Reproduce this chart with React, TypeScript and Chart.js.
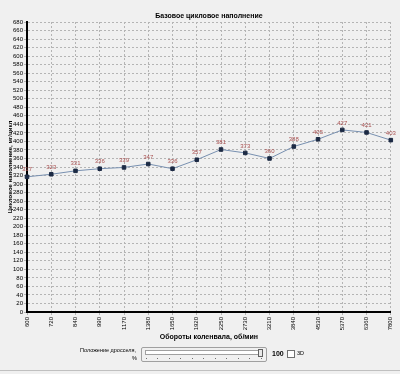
import React, { useEffect, useRef } from "react";
import { Chart, registerables } from "chart.js";

Chart.register(...registerables);

const rpmLabels = ["600", "720", "840", "990", "1170", "1380", "1650", "1920", "2250", "2730", "3210", "3840", "4530", "5370", "6360", "7800"];
const fillValues = [317, 323, 331, 336, 339, 347, 336, 357, 381, 373, 360, 388, 405, 427, 421, 403];
const yMin = 0;
const yMax = 680;
const yStep = 20;
const chartTitle = "Базовое цикловое наполнение";
const yTitle = "Цикловое наполнение, мг/цикл";
const xTitle = "Обороты коленвала, об/мин";

const FONT = "'Liberation Sans', Arial, sans-serif";

const textPlugin = {
  id: "textPlugin",
  beforeDraw(chart: any) {
    const ctx = chart.ctx;
    ctx.save();
    ctx.fillStyle = "#f0f0f0";
    ctx.fillRect(0, 0, chart.width, chart.height);
    ctx.restore();
  },
  afterDatasetsDraw(chart: any) {
    const ctx = chart.ctx;
    const meta = chart.getDatasetMeta(0);
    ctx.save();
    ctx.font = `6px ${FONT}`;
    ctx.fillStyle = "#a85050";
    ctx.textAlign = "center";
    ctx.textBaseline = "bottom";
    meta.data.forEach((pt: any, i: number) => {
      ctx.fillText(String(fillValues[i]), pt.x, pt.y - 4);
    });
    ctx.restore();
  },
  afterDraw(chart: any) {
    const ctx = chart.ctx;
    const a = chart.chartArea;
    ctx.save();
    ctx.fillStyle = "#000";
    ctx.font = `bold 7px ${FONT}`;
    ctx.textAlign = "center";
    ctx.textBaseline = "middle";
    ctx.fillText(chartTitle, (a.left + a.right) / 2, 16);
    ctx.fillText(xTitle, (a.left + a.right) / 2, 337);
    ctx.translate(10, (a.top + a.bottom) / 2);
    ctx.rotate(-Math.PI / 2);
    ctx.font = `bold 6px ${FONT}`;
    ctx.fillText(yTitle, 0, 0);
    ctx.restore();
  },
};

export default function App() {
  const ref = useRef<HTMLCanvasElement | null>(null);
  useEffect(() => {
    if (!ref.current) return;
    const chart = new Chart(ref.current, {
      type: "line",
      data: {
        labels: rpmLabels,
        datasets: [
          {
            data: fillValues,
            borderColor: "#7890b0",
            borderWidth: 1,
            pointStyle: "rect",
            pointRadius: 2.5,
            pointBackgroundColor: "#1c2a44",
            pointBorderColor: "#1c2a44",
            tension: 0,
          },
        ],
      },
      plugins: [textPlugin],
      options: {
        animation: false,
        responsive: false,
        layout: { padding: { left: 0, top: 22, right: 8, bottom: 32 } },
        plugins: { legend: { display: false }, tooltip: { enabled: false }, title: { display: false } },
        scales: {
          x: {
            type: "category",
            offset: false,
            afterFit: (s: any) => { s.height = 30; },
            grid: { color: "#b4b4b4", lineWidth: 1, tickLength: 3, drawTicks: true },
            border: { color: "#000", width: 2, dash: [2, 2] },
            ticks: {
              autoSkip: false,
              maxRotation: 90,
              minRotation: 90,
              padding: 2,
              color: "#000",
              font: { size: 6, family: FONT },
            },
          },
          y: {
            min: yMin,
            max: yMax,
            afterFit: (s: any) => { s.width = 27; },
            grid: { color: "#b4b4b4", lineWidth: 1, tickLength: 3 },
            border: { color: "#000", width: 2, dash: [2, 2] },
            ticks: {
              stepSize: yStep,
              autoSkip: false,
              padding: 1,
              color: "#000",
              font: { size: 6, family: FONT },
            },
          },
        },
      },
    } as any);
    return () => chart.destroy();
  }, []);

  const small: React.CSSProperties = { position: "absolute", font: `5.5px ${FONT}`, color: "#000", whiteSpace: "nowrap" };
  return (
    <div style={{ position: "fixed", left: 0, top: 0, width: 400, height: 374, background: "#f0f0f0", overflow: "hidden" }}>
      <canvas ref={ref} width={400} height={374} style={{ position: "absolute", left: 0, top: 0 }} />
      <div style={{ ...small, left: 80, top: 347 }}>Положение дросселя,</div>
      <div style={{ ...small, left: 132, top: 355 }}>%</div>
      <div style={{ position: "absolute", left: 141, top: 347, width: 124, height: 13, border: "1px solid #a0a0a0", borderRadius: 2, background: "#f0f0f0" }}>
        <div style={{ position: "absolute", left: 3, right: 3, top: 2, height: 3, border: "1px solid #a0a0a0", background: "#fff" }} />
        <div style={{ position: "absolute", right: 3, top: 1, width: 3, height: 6, border: "1px solid #606060", background: "#e8e8e8" }} />
        <div style={{ position: "absolute", left: 4, right: 4, top: 10, height: 1, backgroundImage: "repeating-linear-gradient(90deg, #707070 0 1px, transparent 1px 11.5px)" }} />
      </div>
      <div style={{ ...small, left: 272, top: 350, font: `bold 7px ${FONT}` }}>100</div>
      <div style={{ position: "absolute", left: 287, top: 350, width: 6, height: 6, border: "1px solid #707070", background: "#fff" }} />
      <div style={{ ...small, left: 297, top: 350 }}>3D</div>
      <div style={{ position: "absolute", left: 0, top: 370, width: 400, height: 1, background: "#c0c0c0" }} />
    </div>
  );
}
